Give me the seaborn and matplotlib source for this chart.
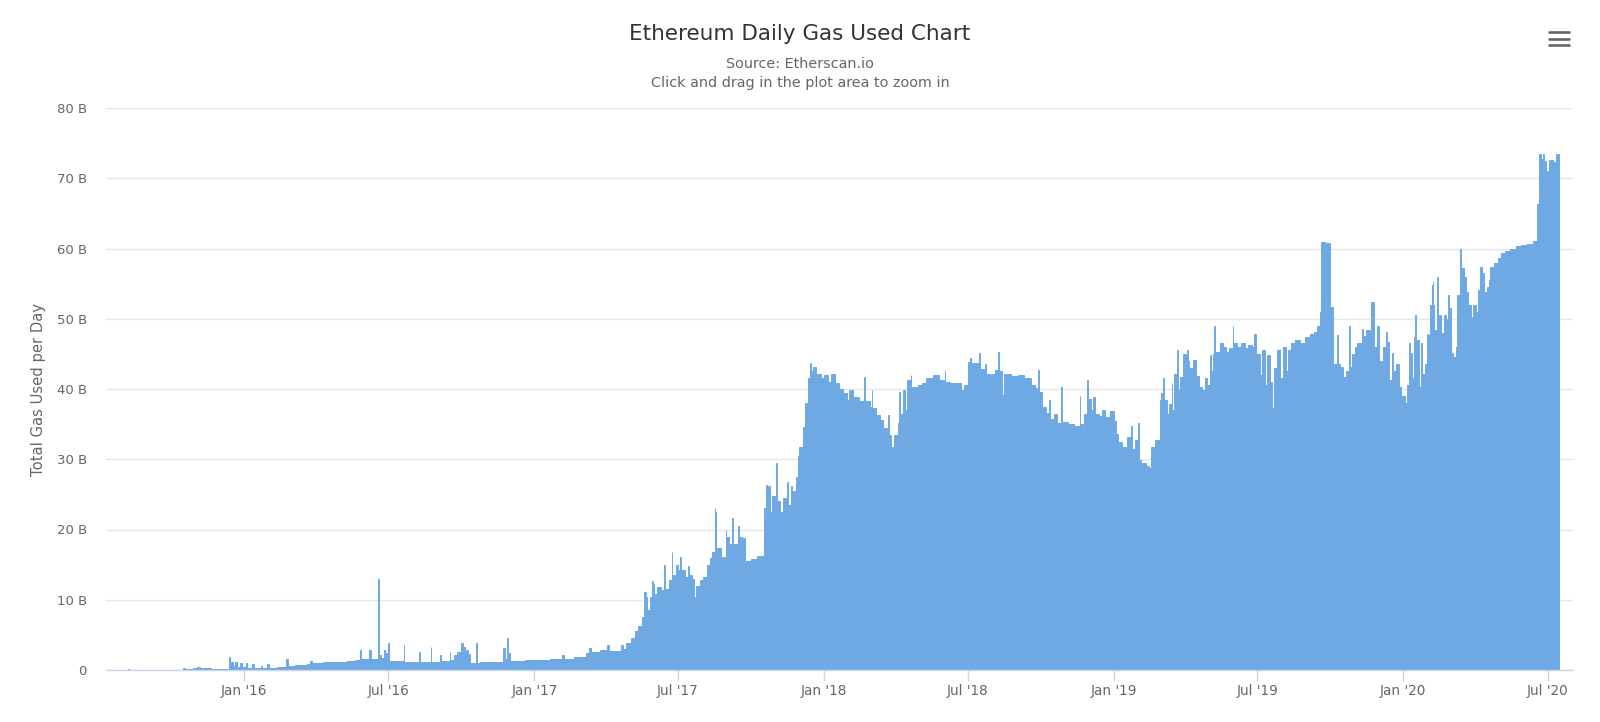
import matplotlib
matplotlib.use("Agg")
import matplotlib.pyplot as plt
import matplotlib.dates as mdates
from matplotlib.lines import Line2D
from matplotlib.ticker import FuncFormatter, MultipleLocator
import pandas as pd
import seaborn as sns

# Daily gas used, billions. Each entry: (first day of a stretch, level of that stretch)
gas_2015 = [
    ("2015-07-30", 0.03), ("2015-08-08", 0.2), ("2015-08-09", 0.03), ("2015-10-16", 0.25),
    ("2015-10-19", 0.1), ("2015-10-29", 0.3), ("2015-11-03", 0.4), ("2015-11-07", 0.25),
    ("2015-11-20", 0.15), ("2015-12-13", 1.9), ("2015-12-14", 0.8), ("2015-12-16", 1.2),
    ("2015-12-18", 0.5), ("2015-12-21", 1.1), ("2015-12-23", 0.4), ("2015-12-27", 1.0),
    ("2015-12-29", 0.4),
]
gas_2016 = [
    ("2016-01-03", 1.0), ("2016-01-05", 0.35), ("2016-01-11", 0.8), ("2016-01-13", 0.3),
    ("2016-01-22", 0.6), ("2016-01-24", 0.25), ("2016-01-30", 0.9), ("2016-02-01", 0.3),
    ("2016-02-12", 0.4), ("2016-02-23", 1.5), ("2016-02-25", 0.5), ("2016-03-05", 0.7),
    ("2016-03-20", 0.9), ("2016-03-24", 1.3), ("2016-03-27", 1.0), ("2016-04-10", 1.1),
    ("2016-04-25", 1.2), ("2016-05-10", 1.3), ("2016-05-20", 1.4), ("2016-05-26", 2.8),
    ("2016-05-28", 1.5), ("2016-06-07", 2.8), ("2016-06-09", 1.6), ("2016-06-18", 12.9),
    ("2016-06-19", 2.2), ("2016-06-22", 1.7), ("2016-06-25", 2.8), ("2016-06-27", 2.4),
    ("2016-06-29", 1.4), ("2016-07-01", 3.9), ("2016-07-02", 1.3), ("2016-07-20", 3.6),
    ("2016-07-21", 1.2), ("2016-08-09", 2.5), ("2016-08-10", 1.2), ("2016-08-23", 3.3),
    ("2016-08-24", 1.2), ("2016-09-04", 2.1), ("2016-09-05", 1.3), ("2016-09-16", 2.5),
    ("2016-09-17", 1.4), ("2016-09-22", 2.1), ("2016-09-26", 2.6), ("2016-10-01", 3.9),
    ("2016-10-03", 3.3), ("2016-10-06", 2.8), ("2016-10-09", 2.3), ("2016-10-12", 0.95),
    ("2016-10-19", 3.9), ("2016-10-20", 1.0), ("2016-10-24", 1.2), ("2016-11-23", 3.1),
    ("2016-11-25", 1.5), ("2016-11-27", 4.6), ("2016-11-29", 2.4), ("2016-12-01", 1.3),
    ("2016-12-20", 1.4),
]
gas_2017 = [
    ("2017-01-01", 1.4), ("2017-01-20", 1.6), ("2017-02-05", 2.1), ("2017-02-07", 1.6),
    ("2017-02-20", 1.8), ("2017-03-07", 2.4), ("2017-03-11", 3.1), ("2017-03-13", 2.6),
    ("2017-03-25", 2.9), ("2017-04-03", 3.5), ("2017-04-05", 2.7), ("2017-04-20", 3.6),
    ("2017-04-22", 3.0), ("2017-04-27", 3.8), ("2017-05-03", 4.5), ("2017-05-08", 5.5),
    ("2017-05-12", 6.2), ("2017-05-16", 7.6), ("2017-05-19", 11.1), ("2017-05-21", 10.4),
    ("2017-05-23", 8.5), ("2017-05-27", 10.4), ("2017-05-29", 12.6), ("2017-05-30", 10.5),
    ("2017-05-31", 12.3), ("2017-06-01", 10.8), ("2017-06-05", 11.8), ("2017-06-10", 11.4),
    ("2017-06-13", 14.9), ("2017-06-14", 11.6), ("2017-06-19", 12.8), ("2017-06-23", 16.8),
    ("2017-06-24", 13.5), ("2017-06-27", 11.6), ("2017-06-29", 14.9), ("2017-07-01", 14.2),
    ("2017-07-04", 16.1), ("2017-07-05", 14.2), ("2017-07-10", 13.2), ("2017-07-14", 14.8),
    ("2017-07-15", 13.5), ("2017-07-19", 13.0), ("2017-07-21", 10.4), ("2017-07-24", 12.0),
    ("2017-07-29", 12.8), ("2017-08-02", 13.3), ("2017-08-06", 14.9), ("2017-08-10", 16.0),
    ("2017-08-13", 16.8), ("2017-08-16", 23.0), ("2017-08-17", 22.5), ("2017-08-18", 17.3),
    ("2017-08-24", 13.9), ("2017-08-26", 16.1), ("2017-08-30", 19.9), ("2017-08-31", 19.0),
    ("2017-09-03", 15.7), ("2017-09-05", 18.0), ("2017-09-07", 21.7), ("2017-09-08", 18.0),
    ("2017-09-11", 14.9), ("2017-09-12", 18.0), ("2017-09-15", 20.5), ("2017-09-16", 19.0),
    ("2017-09-20", 18.8), ("2017-09-23", 15.5), ("2017-10-01", 15.8), ("2017-10-08", 16.2),
    ("2017-10-17", 23.1), ("2017-10-18", 21.0), ("2017-10-20", 26.3), ("2017-10-21", 18.0),
    ("2017-10-23", 26.2), ("2017-10-25", 22.5), ("2017-10-28", 24.7), ("2017-10-31", 21.4),
    ("2017-11-02", 29.5), ("2017-11-03", 24.0), ("2017-11-06", 22.5), ("2017-11-10", 24.5),
    ("2017-11-15", 26.8), ("2017-11-16", 23.5), ("2017-11-21", 26.2), ("2017-11-22", 25.5),
    ("2017-11-27", 27.5), ("2017-11-29", 30.4), ("2017-12-01", 31.8), ("2017-12-05", 34.6),
    ("2017-12-08", 38.0), ("2017-12-12", 41.5), ("2017-12-14", 43.7), ("2017-12-16", 42.5),
    ("2017-12-18", 43.2), ("2017-12-22", 39.6), ("2017-12-23", 42.2), ("2017-12-28", 41.5),
]
gas_2018 = [
    ("2018-01-01", 42.0), ("2018-01-06", 41.0), ("2018-01-10", 42.2), ("2018-01-15", 40.8),
    ("2018-01-20", 40.0), ("2018-01-25", 39.5), ("2018-01-30", 38.5), ("2018-02-02", 39.9),
    ("2018-02-07", 38.8), ("2018-02-14", 38.3), ("2018-02-21", 41.7), ("2018-02-22", 38.3),
    ("2018-02-28", 37.5), ("2018-03-02", 39.9), ("2018-03-03", 37.3), ("2018-03-08", 36.3),
    ("2018-03-13", 35.6), ("2018-03-16", 31.3), ("2018-03-17", 34.5), ("2018-03-21", 33.4),
    ("2018-03-23", 36.3), ("2018-03-24", 33.4), ("2018-03-27", 31.8), ("2018-03-29", 29.4),
    ("2018-03-30", 33.4), ("2018-04-04", 35.1), ("2018-04-06", 39.6), ("2018-04-07", 36.5),
    ("2018-04-11", 39.9), ("2018-04-13", 37.0), ("2018-04-15", 41.3), ("2018-04-20", 42.0),
    ("2018-04-21", 40.3), ("2018-04-29", 37.0), ("2018-04-30", 40.5), ("2018-05-05", 40.9),
    ("2018-05-10", 41.5), ("2018-05-18", 42.0), ("2018-05-26", 41.3), ("2018-06-02", 42.7),
    ("2018-06-03", 41.0), ("2018-06-09", 40.8), ("2018-06-17", 39.6), ("2018-06-18", 40.8),
    ("2018-06-23", 37.7), ("2018-06-24", 39.9), ("2018-06-27", 40.5), ("2018-07-01", 43.9),
    ("2018-07-04", 44.4), ("2018-07-05", 43.7), ("2018-07-08", 39.9), ("2018-07-09", 43.7),
    ("2018-07-15", 45.1), ("2018-07-16", 42.9), ("2018-07-23", 43.5), ("2018-07-24", 42.2),
    ("2018-07-29", 38.0), ("2018-07-30", 42.2), ("2018-08-04", 42.7), ("2018-08-08", 45.2),
    ("2018-08-09", 42.5), ("2018-08-13", 39.1), ("2018-08-16", 42.2), ("2018-08-25", 41.8),
    ("2018-09-02", 42.0), ("2018-09-10", 41.5), ("2018-09-19", 40.6), ("2018-09-24", 40.2),
    ("2018-09-28", 42.7), ("2018-09-29", 39.6), ("2018-10-03", 37.5), ("2018-10-08", 36.6),
    ("2018-10-12", 38.4), ("2018-10-13", 35.8), ("2018-10-18", 36.5), ("2018-10-22", 35.1),
    ("2018-10-27", 40.3), ("2018-10-28", 35.3), ("2018-11-05", 35.0), ("2018-11-12", 34.8),
    ("2018-11-19", 39.0), ("2018-11-20", 35.0), ("2018-11-23", 33.9), ("2018-11-25", 36.5),
    ("2018-11-29", 41.3), ("2018-11-30", 38.6), ("2018-12-04", 37.0), ("2018-12-06", 38.9),
    ("2018-12-08", 36.5), ("2018-12-13", 36.2), ("2018-12-17", 37.0), ("2018-12-21", 36.0),
    ("2018-12-27", 36.8),
]
gas_2019 = [
    ("2019-01-01", 35.5), ("2019-01-04", 33.6), ("2019-01-06", 30.1), ("2019-01-07", 32.5),
    ("2019-01-12", 29.6), ("2019-01-13", 31.8), ("2019-01-18", 33.2), ("2019-01-23", 34.8),
    ("2019-01-24", 31.5), ("2019-01-28", 32.8), ("2019-02-01", 35.1), ("2019-02-02", 29.9),
    ("2019-02-05", 28.0), ("2019-02-06", 29.5), ("2019-02-11", 27.4), ("2019-02-12", 29.0),
    ("2019-02-15", 28.7), ("2019-02-17", 31.8), ("2019-02-22", 32.7), ("2019-02-28", 38.5),
    ("2019-03-02", 39.4), ("2019-03-04", 41.5), ("2019-03-05", 38.4), ("2019-03-09", 36.5),
    ("2019-03-12", 37.8), ("2019-03-15", 40.8), ("2019-03-16", 37.0), ("2019-03-18", 42.2),
    ("2019-03-22", 45.5), ("2019-03-23", 40.0), ("2019-03-26", 41.7), ("2019-03-29", 45.0),
    ("2019-04-02", 44.6), ("2019-04-04", 45.5), ("2019-04-05", 44.0), ("2019-04-06", 37.3),
    ("2019-04-07", 43.0), ("2019-04-11", 44.1), ("2019-04-15", 41.9), ("2019-04-18", 40.3),
    ("2019-04-22", 39.8), ("2019-04-26", 41.5), ("2019-04-29", 40.6), ("2019-05-03", 44.8),
    ("2019-05-04", 42.5), ("2019-05-06", 45.0), ("2019-05-08", 48.9), ("2019-05-09", 45.3),
    ("2019-05-15", 46.5), ("2019-05-19", 46.0), ("2019-05-23", 45.3), ("2019-05-27", 45.8),
    ("2019-05-31", 48.9), ("2019-06-01", 46.5), ("2019-06-06", 46.0), ("2019-06-10", 46.6),
    ("2019-06-15", 45.8), ("2019-06-19", 46.3), ("2019-06-24", 41.3), ("2019-06-25", 46.0),
    ("2019-06-27", 47.9), ("2019-06-30", 45.0), ("2019-07-05", 42.0), ("2019-07-07", 45.5),
    ("2019-07-11", 40.5), ("2019-07-13", 44.8), ("2019-07-17", 41.0), ("2019-07-20", 37.3),
    ("2019-07-22", 43.0), ("2019-07-26", 45.5), ("2019-07-30", 41.5), ("2019-08-02", 46.0),
    ("2019-08-06", 42.5), ("2019-08-09", 45.5), ("2019-08-13", 46.5), ("2019-08-18", 47.0),
    ("2019-08-24", 46.5), ("2019-08-30", 47.4), ("2019-09-05", 47.8), ("2019-09-10", 48.1),
    ("2019-09-14", 48.9), ("2019-09-18", 51.0), ("2019-09-19", 53.5), ("2019-09-20", 60.9),
    ("2019-09-24", 59.5), ("2019-09-25", 60.8), ("2019-10-01", 51.7), ("2019-10-05", 43.6),
    ("2019-10-10", 47.7), ("2019-10-11", 43.5), ("2019-10-13", 39.6), ("2019-10-14", 43.1),
    ("2019-10-17", 41.7), ("2019-10-20", 39.4), ("2019-10-21", 42.5), ("2019-10-25", 49.0),
    ("2019-10-26", 43.1), ("2019-10-29", 45.0), ("2019-11-01", 46.0), ("2019-11-04", 46.5),
    ("2019-11-10", 48.6), ("2019-11-11", 47.5), ("2019-11-15", 48.4), ("2019-11-22", 52.4),
    ("2019-11-25", 42.9), ("2019-11-27", 46.0), ("2019-11-29", 48.9), ("2019-12-01", 44.0),
    ("2019-12-05", 34.4), ("2019-12-07", 46.0), ("2019-12-10", 48.1), ("2019-12-11", 46.7),
    ("2019-12-14", 41.3), ("2019-12-18", 45.1), ("2019-12-19", 42.5), ("2019-12-23", 43.6),
    ("2019-12-27", 40.3), ("2019-12-29", 36.8), ("2019-12-31", 39.0),
]
gas_2020 = [
    ("2020-01-03", 38.0), ("2020-01-06", 40.5), ("2020-01-08", 46.5), ("2020-01-09", 41.0),
    ("2020-01-11", 45.1), ("2020-01-12", 41.5), ("2020-01-15", 47.4), ("2020-01-16", 50.5),
    ("2020-01-17", 47.0), ("2020-01-21", 40.3), ("2020-01-24", 46.5), ("2020-01-25", 42.2),
    ("2020-01-28", 43.5), ("2020-01-31", 47.9), ("2020-02-01", 47.7), ("2020-02-04", 52.0),
    ("2020-02-06", 54.8), ("2020-02-07", 55.4), ("2020-02-08", 52.0), ("2020-02-09", 48.4),
    ("2020-02-13", 56.0), ("2020-02-14", 50.5), ("2020-02-18", 48.0), ("2020-02-21", 50.5),
    ("2020-02-24", 41.5), ("2020-02-25", 50.0), ("2020-02-27", 53.4), ("2020-02-28", 51.5),
    ("2020-03-01", 45.1), ("2020-03-04", 44.6), ("2020-03-07", 46.0), ("2020-03-09", 53.4),
    ("2020-03-12", 59.9), ("2020-03-14", 57.2), ("2020-03-17", 56.0), ("2020-03-20", 53.8),
    ("2020-03-23", 51.9), ("2020-03-26", 50.3), ("2020-03-29", 51.9), ("2020-04-02", 51.0),
    ("2020-04-04", 54.1), ("2020-04-05", 52.5), ("2020-04-07", 57.4), ("2020-04-09", 56.5),
    ("2020-04-12", 53.8), ("2020-04-15", 54.5), ("2020-04-18", 55.5), ("2020-04-20", 57.4),
    ("2020-04-25", 58.0), ("2020-04-29", 58.6), ("2020-05-03", 59.3), ("2020-05-08", 59.7),
    ("2020-05-15", 60.0), ("2020-05-22", 60.3), ("2020-05-29", 60.5), ("2020-06-05", 60.7),
    ("2020-06-12", 61.0), ("2020-06-18", 66.4), ("2020-06-20", 73.5), ("2020-06-23", 72.8),
    ("2020-06-25", 73.5), ("2020-06-27", 72.5), ("2020-06-29", 71.1), ("2020-07-03", 72.6),
    ("2020-07-08", 72.3), ("2020-07-12", 73.5),
]
last_day = "2020-07-15"

tick_dates = pd.date_range("2016-01-01", "2020-07-01", freq="6MS")
bar_color = "#6fa9e4"

sns.set_style("white")
plt.rcParams["font.family"] = ["DejaVu Sans"]

segments = gas_2015 + gas_2016 + gas_2017 + gas_2018 + gas_2019 + gas_2020
starts = pd.to_datetime([d for d, _ in segments])
values = [v for _, v in segments]
edges = list(mdates.date2num(list(starts) + [pd.Timestamp(last_day)]))
mids = list(mdates.date2num(starts) + 0.5)
df = pd.DataFrame({"day": mids, "gas": values})

fig = plt.figure(figsize=(16, 7.22), dpi=100)
ax = fig.add_axes([106 / 1600, 52 / 722, 1467 / 1600, 562 / 722])

sns.histplot(data=df, x="day", weights="gas", bins=edges, ax=ax, color=bar_color,
             alpha=1, linewidth=0.7, edgecolor=bar_color)

ax.set_xlabel("")
ax.set_ylabel("")
ax.xaxis_date()
ax.set_xlim(mdates.date2num(pd.Timestamp("2015-07-11")),
            mdates.date2num(pd.Timestamp("2020-08-02")))
ax.set_xticks(mdates.date2num(tick_dates))
ax.xaxis.set_major_formatter(mdates.DateFormatter("%b '%y"))

ax.set_ylim(0, 80)
ax.yaxis.set_major_locator(MultipleLocator(10))
ax.yaxis.set_major_formatter(FuncFormatter(lambda v, p: "0" if v == 0 else f"{v:.0f} B"))

ax.grid(axis="y", color="#e6e6e6", linewidth=1)
ax.grid(axis="x", visible=False)
ax.set_axisbelow(True)
for s in ["top", "right", "left"]:
    ax.spines[s].set_visible(False)
ax.spines["bottom"].set_color("#ccd6eb")
ax.spines["bottom"].set_linewidth(1)

ax.tick_params(axis="x", length=7.9, width=1, color="#ccd6eb", labelsize=9.8,
               labelcolor="#666666", pad=2, bottom=True)
ax.tick_params(axis="y", length=0, pad=13.7, labelsize=9.5, labelcolor="#666666")

fig.text(0.5, 1 - 34 / 722, "Ethereum Daily Gas Used Chart", ha="center", va="center",
         fontsize=15.5, color="#333333")
fig.text(0.5, 1 - 64 / 722, "Source: Etherscan.io", ha="center", va="center",
         fontsize=10.4, color="#666666")
fig.text(0.5, 1 - 83 / 722, "Click and drag in the plot area to zoom in", ha="center",
         va="center", fontsize=10.4, color="#666666")
fig.text(39 / 1600, 1 - 389 / 722, "Total Gas Used per Day", rotation=90, ha="center",
         va="center", fontsize=10.6, color="#666666")

# hamburger menu button, top right
for yy in (32.3, 39, 45.3):
    fig.add_artist(Line2D([1549 / 1600, 1569 / 1600], [1 - yy / 722] * 2, color="#666666",
                          lw=1.9, solid_capstyle="round"))

fig.savefig("out.png", dpi=100)
